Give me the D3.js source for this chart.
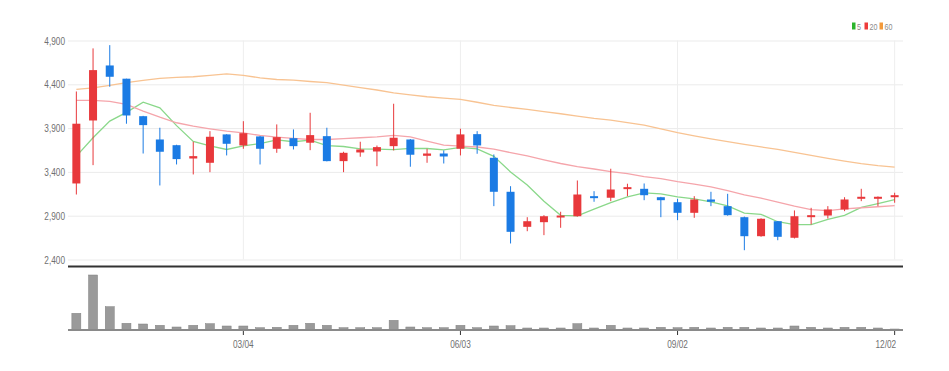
<!DOCTYPE html>
<html>
<head>
<meta charset="utf-8">
<script src="https://cdn.jsdelivr.net/npm/d3@7"></script>
<style>
  body { margin: 0; background: #fff; }
  svg text { font-family: "Liberation Sans", Arial, sans-serif; }
</style>
</head>
<body>
<div class="chart"></div>
<script>
// weekly candles, 2018-12-24 .. 2019-12-02
var dates = ["2018-12-24","2018-12-31","2019-01-07","2019-01-14","2019-01-21","2019-01-28","2019-02-04","2019-02-11","2019-02-18","2019-02-25",
  "2019-03-04","2019-03-11","2019-03-18","2019-03-25","2019-04-01","2019-04-08","2019-04-15","2019-04-22","2019-04-29","2019-05-06",
  "2019-05-13","2019-05-20","2019-05-27","2019-06-03","2019-06-10","2019-06-17","2019-06-24","2019-07-01","2019-07-08","2019-07-15",
  "2019-07-22","2019-07-29","2019-08-05","2019-08-12","2019-08-19","2019-08-26","2019-09-02","2019-09-09","2019-09-16","2019-09-23",
  "2019-09-30","2019-10-07","2019-10-14","2019-10-21","2019-10-28","2019-11-04","2019-11-11","2019-11-18","2019-11-25","2019-12-02"];

var openP  = [3268,3987,4615,4464,4036,3770,3705,3553,3504,3828,3702,3805,3664,3785,3733,3808,3523,3622,3633,3694,
  3770,3584,3610,3664,3831,3561,3173,2773,2826,2883,2894,3123,3105,3211,3207,3111,3054,2933,3085,3009,
  2883,2666,2837,2648,2894,2902,2971,3093,3093,3111];
var highP  = [4318,4810,4847,4464,4040,3904,3710,3744,3865,3830,3979,3810,3942,3885,4075,3904,3630,3744,3701,4178,
  3775,3664,3645,3893,3865,3599,3237,2883,2906,2945,3302,3180,3436,3265,3268,3115,3093,3123,3173,3150,
  2890,2870,2840,2960,2990,3009,3111,3207,3120,3162];
var lowP   = [3142,3477,4372,3950,3610,3245,3485,3371,3397,3588,3664,3485,3618,3656,3648,3520,3397,3573,3465,3645,
  3459,3504,3496,3588,3607,3009,2583,2723,2678,2762,2890,3059,3066,3123,3077,2883,2849,2876,3009,2900,
  2506,2660,2620,2640,2800,2868,2952,3066,3009,3048];
var closeP = [3950,4562,4486,4044,3934,3630,3546,3580,3801,3721,3842,3664,3797,3694,3820,3523,3618,3656,3683,3790,
  3596,3610,3576,3828,3702,3173,2716,2837,2894,2902,3142,3105,3199,3226,3134,3077,2933,3085,3059,2906,
  2666,2865,2659,2894,2906,2971,3085,3116,3116,3134];
var volume = [1670,5500,2330,670,600,470,300,470,630,400,400,230,270,470,670,470,230,230,230,970,
  300,230,230,470,230,400,430,200,200,200,630,200,470,200,200,270,230,270,200,270,
  270,200,200,400,270,200,270,270,200,100];

var ma5  = [3580,3790,3980,4080,4195,4131,3928,3747,3698,3656,3698,3722,3765,3744,3763,3700,3690,3662,3660,3654,
  3669,3667,3651,3680,3662,3578,3399,3251,3064,2904,2898,2976,3048,3115,3161,3148,3114,3091,3058,3012,
  2930,2916,2831,2798,2798,2859,2903,2994,3039,3084];
var ma20 = [4216,4216,4204,4170,4094,4025,3961,3922,3892,3865,3846,3816,3797,3782,3770,3770,3780,3790,3800,3817,
  3799,3752,3706,3695,3684,3661,3620,3582,3537,3496,3461,3433,3403,3380,3346,3323,3289,3260,3229,3185,
  3139,3101,3055,3009,2969,2959,2977,2991,3002,3014];
var ma60 = [4341,4360,4387,4418,4444,4467,4478,4486,4501,4520,4501,4474,4455,4448,4432,4418,4390,4362,4335,4303,
  4280,4258,4242,4227,4195,4160,4135,4113,4088,4064,4037,4010,3990,3962,3935,3890,3848,3812,3778,3745,
  3713,3685,3656,3622,3588,3555,3523,3495,3472,3454];

var priceTicks = [2400,2900,3400,3900,4400,4900];
var tickDates = ["2019-03-04","2019-06-03","2019-09-02","2019-12-02"];
var legendNames = ["5","20","60"];

var svgWidth = 949, svgHeight = 371;
var plotLeft = 68, plotRight = 903;
var priceTop = 40.5, priceBottom = 259.5;
var volTop = 270, volBottom = 330;

var upColor = "#e8383b", downColor = "#1b7be4";
var lineColors = ["#8ad88a", "#f5a5ab", "#f8c392"];
var legendColors = ["#2cb52c", "#ee3b3b", "#f39a3b"];

var parseDate = d3.timeParse("%Y-%m-%d");
var fmt = d3.timeFormat("%m/%d");

var data = dates.map(function(d, i) {
  return { date: d, o: openP[i], h: highP[i], l: lowP[i], c: closeP[i], v: volume[i] };
});

var svg = d3.select(".chart").append("svg")
  .attr("width", svgWidth)
  .attr("height", svgHeight);

var x = d3.scaleBand().domain(dates).range([plotLeft, plotRight]);
var y = d3.scaleLinear().domain([2400, 4900]).range([priceBottom, priceTop]);
var yVol = d3.scaleLinear().domain([0, 6000]).range([volBottom, volTop]);
var cx = function(d) { return x(d) + x.bandwidth() / 2; };

// horizontal grid
var gridY = svg.append("g")
  .attr("transform", "translate(" + plotLeft + ",0)")
  .call(d3.axisLeft(y).tickValues(priceTicks).tickSize(-(plotRight - plotLeft)).tickFormat(""));
gridY.select(".domain").remove();
gridY.selectAll("line").attr("stroke", "#ebebeb");

// vertical grid
var gridX = svg.append("g")
  .attr("transform", "translate(0," + priceBottom + ")")
  .call(d3.axisBottom(x).tickValues(tickDates).tickSize(-(priceBottom - priceTop)).tickFormat(""));
gridX.select(".domain").remove();
gridX.selectAll("line").attr("stroke", "#eeeeee");

// y labels
var yAxis = svg.append("g")
  .attr("transform", "translate(" + plotLeft + ",0)")
  .call(d3.axisLeft(y).tickValues(priceTicks).tickSize(0).tickPadding(4).tickFormat(d3.format(",")));
yAxis.select(".domain").remove();
yAxis.selectAll("text")
  .attr("font-size", 11)
  .attr("fill", "#707070")
  .attr("transform", "scale(0.75,1)");

// moving averages, behind the candles
[ma5, ma20, ma60].forEach(function(series, k) {
  var line = d3.line()
    .x(function(v, i) { return cx(dates[i]); })
    .y(function(v) { return y(v); });
  svg.append("path")
    .datum(series)
    .attr("d", line)
    .attr("fill", "none")
    .attr("stroke", lineColors[k])
    .attr("stroke-width", 1.3);
});

// candles
var candles = svg.append("g").selectAll("g")
  .data(data)
  .enter().append("g");

candles.append("line")
  .attr("x1", function(d) { return cx(d.date); })
  .attr("x2", function(d) { return cx(d.date); })
  .attr("y1", function(d) { return y(d.h); })
  .attr("y2", function(d) { return y(d.l); })
  .attr("stroke", function(d) { return d.c >= d.o ? upColor : downColor; })
  .attr("stroke-width", 1);

candles.append("rect")
  .attr("x", function(d) { return cx(d.date) - 4; })
  .attr("width", 8)
  .attr("y", function(d) { return y(Math.max(d.o, d.c)); })
  .attr("height", function(d) { return Math.max(2, Math.abs(y(d.o) - y(d.c))); })
  .attr("fill", function(d) { return d.c >= d.o ? upColor : downColor; });

// separator between price and volume
svg.append("line")
  .attr("x1", plotLeft).attr("x2", plotRight)
  .attr("y1", 266.5).attr("y2", 266.5)
  .attr("stroke", "#333").attr("stroke-width", 2);

// volume bars
svg.append("g").selectAll("rect")
  .data(data)
  .enter().append("rect")
  .attr("x", function(d) { return cx(d.date) - 4.5; })
  .attr("width", 9)
  .attr("y", function(d) { return yVol(d.v); })
  .attr("height", function(d) { return volBottom - yVol(d.v); })
  .attr("fill", "#9a9a9a")
  .attr("stroke", "#808080")
  .attr("stroke-width", 0.5);

svg.append("line")
  .attr("x1", plotLeft).attr("x2", plotRight)
  .attr("y1", volBottom).attr("y2", volBottom)
  .attr("stroke", "#8a8a8a").attr("stroke-width", 2);

// date axis
var xAxis = svg.append("g")
  .attr("transform", "translate(0," + (volBottom + 1) + ")")
  .call(d3.axisBottom(x).tickValues(tickDates).tickSize(4).tickPadding(5)
    .tickFormat(function(d) { return fmt(parseDate(d)); }));
xAxis.select(".domain").remove();
xAxis.selectAll("line").attr("stroke", "#333");
xAxis.selectAll("text")
  .attr("font-size", 11)
  .attr("fill", "#707070")
  .attr("transform", "scale(0.75,1)");
xAxis.selectAll("text").filter(function(d) { return d === tickDates[tickDates.length - 1]; })
  .attr("text-anchor", "end")
  .attr("x", 2);

// legend
var legendX = [852, 864.5, 879.5];
var legend = svg.append("g");
legendNames.forEach(function(name, k) {
  legend.append("rect")
    .attr("x", legendX[k]).attr("y", 22.5)
    .attr("width", 3.5).attr("height", 7)
    .attr("fill", legendColors[k]);
  legend.append("text")
    .attr("transform", "translate(" + (legendX[k] + 5) + ",30) scale(0.75,1)")
    .attr("font-size", 9.5)
    .attr("fill", "#8a8a8a")
    .text(name);
});
</script>
</body>
</html>
